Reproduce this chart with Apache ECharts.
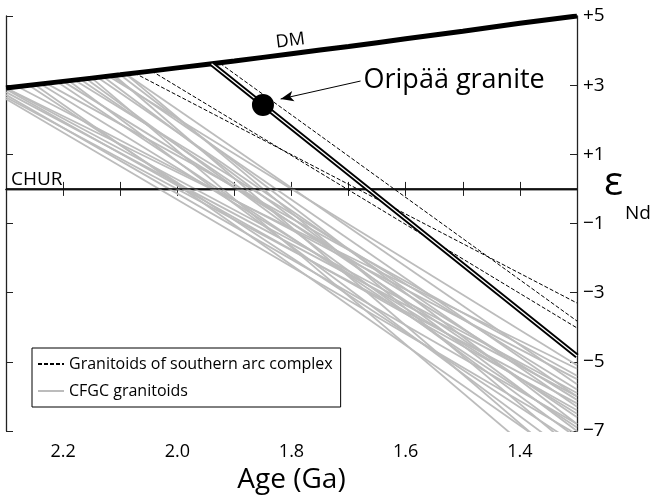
<!DOCTYPE html>
<html>
<head>
<meta charset="utf-8">
<script src="https://cdn.jsdelivr.net/npm/echarts@6/dist/echarts.min.js"></script>
<style>
  html, body { margin: 0; padding: 0; background: #fff; }
  #chart { width: 651px; height: 499px; }
</style>
</head>
<body>
<div id="chart"></div>
<script>
const FONT = '"Open Sans", "DejaVu Sans", sans-serif';
const endAge = 1.3;

// depleted mantle evolution curve
const dmAge = [2.3, 2.2, 2.1, 2.0, 1.9, 1.8, 1.7, 1.6, 1.5, 1.4, 1.3];
const dmEps = [2.92, 3.11, 3.30, 3.50, 3.70, 3.91, 4.12, 4.34, 4.56, 4.79, 5.0];
const churAge = [2.3, 1.3];

// Oripää granite
const oripaaPoint = [1.85, 2.43];
const oripaaLine = [[1.94, 3.62], [1.3, -4.83]];
const arrowTip = [1.819, 2.60];
const arrowTail = [1.679, 3.12];

// granitoids of southern arc complex (dashed)
const arcStart = [[2.075, 3.35], [2.045, 3.41], [1.925, 3.63]];
const arcEnd = [-3.3, -4.02, -3.82];

// CFGC granitoids (grey)
const cfgcStart = [
  [2.30, 2.92], [2.30, 2.92], [2.30, 2.88], [2.30, 2.80], [2.30, 2.72],
  [2.30, 2.65], [2.30, 2.60], [2.28, 2.96], [2.26, 3.00], [2.25, 3.02],
  [2.24, 3.04], [2.23, 3.06], [2.21, 3.09], [2.20, 3.11], [2.19, 3.13],
  [2.18, 3.15], [2.17, 3.17], [2.16, 3.19], [2.15, 3.21], [2.14, 3.23],
  [2.13, 3.25], [2.12, 3.26], [2.115, 3.27], [2.11, 3.28], [2.10, 3.30],
  [2.09, 3.32], [2.09, 3.32]
];
const cfgcEnd = [
  -5.2, -5.9, -6.4, -6.0, -6.8,
  -6.2, -7.1, -5.5, -7.4, -8.0,
  -6.5, -5.4, -6.9, -6.1, -7.8,
  -5.8, -6.6, -7.2, -8.7, -6.3,
  -7.0, -5.1, -6.0, -8.2, -6.8,
  -7.6, -5.65
];

const xLabelAges = [2.2, 2.0, 1.8, 1.6, 1.4];

const ARC = 'Granitoids of southern arc complex';
const CFGC = 'CFGC granitoids';

const chart = echarts.init(document.getElementById('chart'));

const series = [];

cfgcStart.forEach((s, i) => {
  series.push({
    name: CFGC,
    type: 'line',
    symbol: 'none',
    z: 1,
    itemStyle: { color: '#bcbcbc' },
    lineStyle: { color: '#bcbcbc', width: 1.8 },
    data: [s, [endAge, cfgcEnd[i]]]
  });
});

arcStart.forEach((s, i) => {
  series.push({
    name: ARC,
    type: 'line',
    symbol: 'none',
    z: 3,
    itemStyle: { color: '#000' },
    lineStyle: { color: '#000', width: 1, type: [4, 2] },
    data: [s, [endAge, arcEnd[i]]]
  });
});

series.push({
  name: 'CHUR',
  type: 'line',
  symbol: 'none',
  z: 2,
  lineStyle: { color: '#000', width: 1.2 },
  data: churAge.map((a, i) => i === 0
    ? {
        value: [a, 0], symbol: 'circle', symbolSize: 0,
        label: {
          show: true, formatter: 'CHUR', position: 'right', distance: 5,
          offset: [0, -9], fontSize: 19, fontFamily: FONT, color: '#000'
        }
      }
    : [a, 0])
});

series.push({
  name: 'DM',
  type: 'line',
  symbol: 'none',
  smooth: true,
  z: 5,
  lineStyle: { color: '#000', width: 5 },
  data: dmAge.map((a, i) => a === 1.8
    ? {
        value: [a, dmEps[i]], symbol: 'circle', symbolSize: 0,
        label: {
          show: true, formatter: 'DM', position: 'top', distance: 4,
          offset: [0, 0], rotate: 7, fontSize: 18, fontFamily: FONT, color: '#000'
        }
      }
    : [a, dmEps[i]])
});

// double line of the Oripää granite
series.push({
  name: 'Oripää outer',
  type: 'line',
  symbol: 'none',
  z: 6,
  lineStyle: { color: '#000', width: 5 },
  data: oripaaLine
});
series.push({
  name: 'Oripää inner',
  type: 'line',
  symbol: 'none',
  z: 7,
  lineStyle: { color: '#fff', width: 1.3 },
  data: oripaaLine
});

series.push({
  name: 'Oripää granite',
  type: 'scatter',
  symbolSize: 22,
  z: 8,
  itemStyle: { color: '#000', opacity: 1 },
  data: [oripaaPoint],
  markLine: {
    silent: true,
    animation: false,
    symbol: ['arrow', 'none'],
    symbolSize: [8, 13],
    lineStyle: { color: '#000', width: 1, type: 'solid' },
    label: {
      show: true, position: 'end', distance: 3, formatter: 'Oripää granite',
      fontSize: 27, fontFamily: FONT, color: '#000'
    },
    data: [[{ coord: arrowTip }, { coord: arrowTail }]]
  }
});

const frame = { show: true, lineStyle: { color: '#222', width: 1.3 } };

const xBase = {
  type: 'value',
  inverse: true,
  min: 1.3,
  max: 2.3,
  interval: 0.1,
  axisLine: frame,
  axisTick: { show: true, inside: true, length: 7, lineStyle: { color: '#222' } },
  splitLine: { show: false }
};

const yBase = {
  type: 'value',
  min: -7,
  max: 5,
  interval: 2,
  axisLine: frame,
  axisTick: { show: true, inside: true, length: 7, lineStyle: { color: '#222' } },
  splitLine: { show: false }
};

chart.setOption({
  animation: false,
  backgroundColor: '#fff',
  grid: { left: 6, right: 74, top: 16, bottom: 68 },
  legend: {
    orient: 'vertical',
    left: 32,
    top: 348,
    data: [ARC, CFGC],
    itemWidth: 26,
    itemHeight: 14,
    itemGap: 11,
    padding: [8, 8, 8, 5],
    borderColor: '#000',
    borderWidth: 1,
    backgroundColor: '#fff',
    selectedMode: false,
    itemStyle: { opacity: 0 },
    textStyle: { fontSize: 16, fontFamily: FONT, color: '#000' }
  },
  xAxis: [
    Object.assign({}, xBase, {
      position: 'bottom',
      name: 'Age (Ga)',
      nameLocation: 'middle',
      nameGap: 34,
      nameTextStyle: { fontSize: 28, fontFamily: FONT, color: '#000' },
      axisLabel: {
        margin: 12, fontSize: 18, fontFamily: FONT, color: '#000',
        formatter: v => xLabelAges.some(a => Math.abs(a - v) < 1e-6) ? v.toFixed(1) : ''
      }
    }),
    Object.assign({}, xBase, { position: 'top', axisLabel: { show: false } })
  ],
  yAxis: [
    Object.assign({}, yBase, {
      position: 'right',
      axisLabel: {
        margin: 6, fontSize: 19, fontFamily: FONT, color: '#000',
        formatter: v => v > 0 ? '+' + v : (v < 0 ? '\u2212' + (-v) : String(v))
      }
    }),
    Object.assign({}, yBase, { position: 'left', axisLabel: { show: false } })
  ],
  graphic: [
    {
      type: 'text', x: 604, y: 184,
      style: { text: 'ε', fontSize: 40, fontFamily: FONT, fill: '#000', align: 'left', verticalAlign: 'middle' }
    },
    {
      type: 'text', x: 625, y: 214,
      style: { text: 'Nd', fontSize: 19, fontFamily: FONT, fill: '#000', align: 'left', verticalAlign: 'middle' }
    }
  ],
  series: series
});
</script>
</body>
</html>
